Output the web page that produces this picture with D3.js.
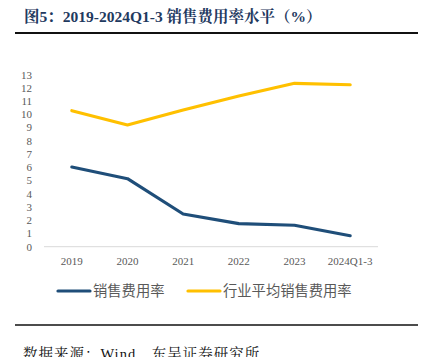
<!DOCTYPE html>
<html><head><meta charset="utf-8">
<script src="https://cdn.jsdelivr.net/npm/d3@7"></script>
<style>body{margin:0;background:#fff}svg{display:block}</style>
</head><body>
<svg id="c" width="436" height="357"></svg>
<script>
const categories = ["2019","2020","2021","2022","2023","2024Q1-3"];
const salesRate = [6.02, 5.14, 2.47, 1.74, 1.62, 0.83];
const industryRate = [10.28, 9.2, 10.33, 11.39, 12.35, 12.24];
const yTicks = [0,1,2,3,4,5,6,7,8,9,10,11,12,13];
const seriesNames = ["销售费用率","行业平均销售费用率"];
const colors = ["#1F4E79","#FFC000"];

const svg = d3.select("#c");
const serif = "'Liberation Serif','Times New Roman',serif";
const cjk = "'Noto Sans CJK SC','Noto Sans',sans-serif";

// Title
svg.append("text").attr("x",24).attr("y",22)
  .attr("font-family", serif+",'Noto Serif CJK SC','Noto Sans CJK SC'")
  .attr("font-weight","bold").attr("font-size",15.5).attr("fill","#1F3A5F")
  .text("图5：2019-2024Q1-3 销售费用率水平（%）");
svg.append("line").attr("x1",15).attr("x2",418).attr("y1",33).attr("y2",33)
  .attr("stroke","#111").attr("stroke-width",2);

const x = d3.scalePoint().domain(categories).range([44,378]).padding(0.5);
const y = d3.scaleLinear().domain([0,13]).range([246.7,74.7]);

// x axis line
svg.append("line").attr("x1",44).attr("x2",378).attr("y1",y(0)).attr("y2",y(0))
  .attr("stroke","#D9D9D9").attr("stroke-width",1);

// y tick labels
svg.append("g").selectAll("text").data(yTicks).join("text")
  .attr("x",32).attr("y",d=>y(d)).attr("dy","0.35em").attr("text-anchor","end")
  .attr("font-family",serif).attr("font-size",11).attr("fill","#595959")
  .text(d=>d);

// x tick labels
svg.append("g").selectAll("text").data(categories).join("text")
  .attr("x",d=>x(d)).attr("y",261).attr("dy","0.35em").attr("text-anchor","middle")
  .attr("font-family",serif).attr("font-size",11).attr("fill","#595959")
  .text(d=>d);

const line = d3.line().x((d,i)=>x(categories[i])).y(d=>y(d));
[salesRate, industryRate].forEach((s,k)=>{
  svg.append("path").datum(s).attr("d",line).attr("fill","none")
    .attr("stroke",colors[k]).attr("stroke-width",3.2)
    .attr("stroke-linejoin","round").attr("stroke-linecap","round");
});

// legend
const legX = [58,188];
seriesNames.forEach((n,k)=>{
  svg.append("line").attr("x1",legX[k]).attr("x2",legX[k]+32).attr("y1",291).attr("y2",291)
    .attr("stroke",colors[k]).attr("stroke-width",3.2).attr("stroke-linecap","round");
  svg.append("text").attr("x",legX[k]+35).attr("y",291).attr("dy","0.35em")
    .attr("font-family",cjk).attr("font-size",14.3).attr("fill","#595959").text(n);
});

svg.append("line").attr("x1",15).attr("x2",418).attr("y1",325).attr("y2",325)
  .attr("stroke","#111").attr("stroke-width",1.5);

svg.append("text").attr("x",23).attr("y",359)
  .attr("font-family", serif+",'Noto Serif CJK SC','Noto Sans CJK SC'")
  .attr("font-size",14.5).attr("letter-spacing",1).attr("fill","#111")
  .text("数据来源：Wind，东吴证券研究所");
</script>
</body></html>
